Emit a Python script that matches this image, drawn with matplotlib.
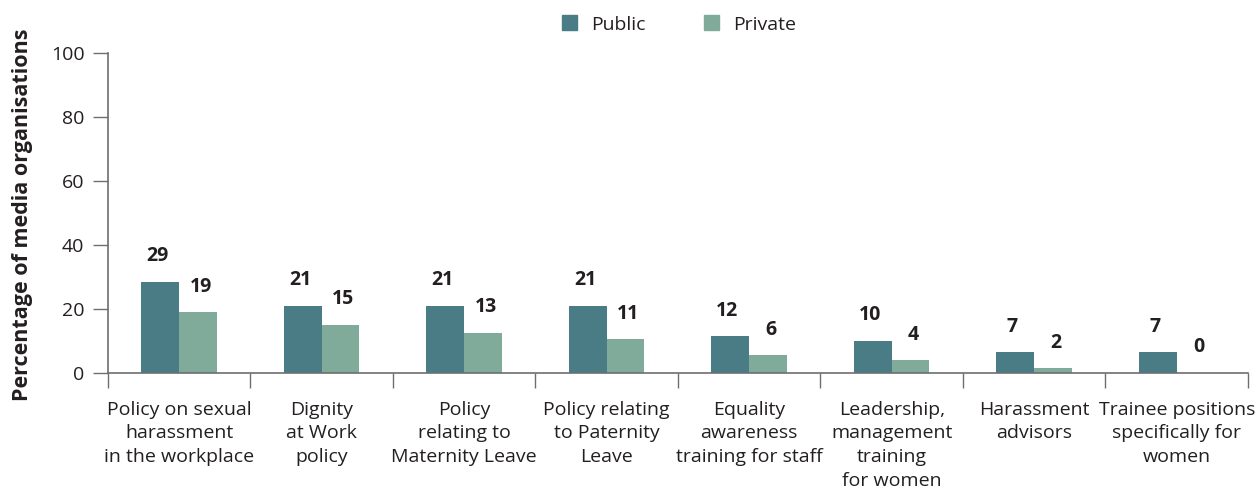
import matplotlib
matplotlib.use("Agg")
import matplotlib.pyplot as plt
import numpy as np
from matplotlib.patches import Patch

categories = [
    "Policy on sexual\nharassment\nin the workplace",
    "Dignity\nat Work\npolicy",
    "Policy\nrelating to\nMaternity Leave",
    "Policy relating\nto Paternity\nLeave",
    "Equality\nawareness\ntraining for staff",
    "Leadership,\nmanagement\ntraining\nfor women",
    "Harassment\nadvisors",
    "Trainee positions\nspecifically for\nwomen",
]
public = [28.5, 21, 21, 21, 11.5, 10, 6.5, 6.5]
private = [19, 15, 12.5, 10.5, 5.5, 4, 1.5, 0]
public_labels = ["29", "21", "21", "21", "12", "10", "7", "7"]
private_labels = ["19", "15", "13", "11", "6", "4", "2", "0"]
yticks = [0, 20, 40, 60, 80, 100]

plt.rcParams['font.family'] = ['Open Sans', 'DejaVu Sans']
c_pub = "#4a7c85"
c_priv = "#80ab9a"
grey = "#6d6e70"
txt = "#231f20"

fig = plt.figure(figsize=(12.55, 4.91), dpi=100)
ax = fig.add_axes([0.086, 0.2403, 0.9084, 0.6517])

x = np.arange(len(categories))
w = 0.265
ax.bar(x - w / 2, public, w, color=c_pub, label="Public")
ax.bar(x + w / 2, private, w, color=c_priv, label="Private")

for i in range(len(categories)):
    ax.text(x[i] - w / 2 - 0.02, public[i] + 8, public_labels[i], ha="center", va="center",
            fontsize=14, fontweight="bold", color=txt)
    ax.text(x[i] + w / 2 + 0.02, private[i] + 8, private_labels[i], ha="center", va="center",
            fontsize=14, fontweight="bold", color=txt)

ax.set_xlim(-0.5, len(categories) - 0.5)
ax.set_ylim(0, 100)
ax.set_yticks(yticks)
ax.set_yticklabels([str(t) for t in yticks], fontsize=14, color=txt)
ax.tick_params(axis="y", length=11, width=1, color=grey, pad=6)

ax.set_xticks(np.arange(-0.5, len(categories), 1.0))
ax.set_xticklabels([])
ax.tick_params(axis="x", length=11, width=1, color=grey)
for i, c in enumerate(categories):
    ax.text(x[i], -8.6, c, ha="center", va="top", fontsize=14, color=txt,
            linespacing=1.42, transform=ax.transData, clip_on=False)

for s in ["top", "right"]:
    ax.spines[s].set_visible(False)
for s in ["left", "bottom"]:
    ax.spines[s].set_color(grey)
    ax.spines[s].set_linewidth(1.2)

ax.set_ylabel("Percentage of media organisations", fontsize=15.5, fontweight="bold",
              color=txt)
ax.yaxis.set_label_coords(-0.066, 0.495)

handles = [Patch(color=c_pub, label="Public"), Patch(color=c_priv, label="Private")]
fig.legend(handles=handles, loc="center", bbox_to_anchor=(0.541, 0.95), ncol=2,
           frameon=False, fontsize=14, handlelength=0.8, handleheight=0.8,
           columnspacing=3.0, handletextpad=0.7, labelcolor=txt)

fig.savefig("out.png", dpi=100)
